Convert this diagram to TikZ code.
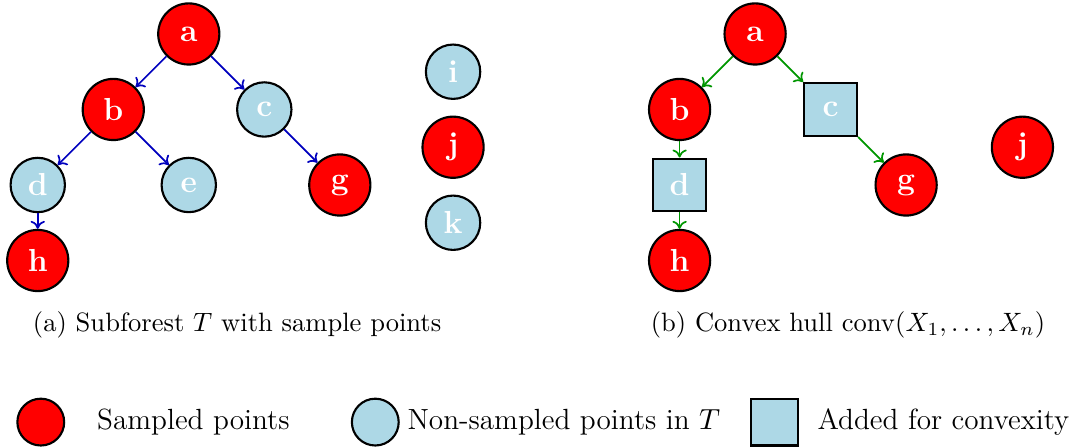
\documentclass[tikz,border=0pt]{standalone}
\usetikzlibrary{positioning, arrows.meta}
\definecolor{lightblue}{RGB}{173,216,230}
\definecolor{treeblue}{RGB}{0,0,190}
\definecolor{hullgreen}{RGB}{0,150,0}
\begin{document}
\begin{tikzpicture}
    [
    x=1cm, y=1cm, >={To[length=3pt, width=5.4pt]},
    %Voreinstellung für Knoten und Kanten
    sampled/.style={circle, draw=black, thick, fill=red, text=white,
      minimum size=0.81cm, inner sep=0pt, font=\large\bfseries},
    unsampled/.style={circle, draw=black, thick, fill=lightblue, text=white,
      minimum size=0.72cm, inner sep=0pt, font=\large\bfseries},
    added/.style={rectangle, draw=black, thick, fill=lightblue, text=white,
      minimum size=0.70cm, inner sep=0pt, font=\large\bfseries},
    treeedge/.style={->, treeblue, line width=0.65pt},
    hulledge/.style={->, hullgreen, line width=0.65pt},
    legendsym/.style={draw=black, thick, minimum size=0.62cm, inner sep=0pt},
    legendtxt/.style={anchor=west, inner sep=0pt, font=\fontsize{11}{13}\selectfont}
    ]
    
    %Rahmen
    \useasboundingbox (0,0.45) rectangle (14.21,-5.48);
    
    %Teilwald T links
    \node[sampled] (la) at (2.5,0) {a};
    \node[sampled] (lb) at (1.5,-1) {b};
    \node[unsampled] (lc) at (3.5,-1) {c};
    \node[unsampled] (ld) at (0.5,-2) {d};
    \node[unsampled] (le) at (2.5,-2) {e};
    \node[sampled] (lg) at (4.5,-2) {g};
    \node[sampled] (lh) at (0.5,-3) {h};
    \node[unsampled] (li) at (6,-0.5) {i};
    \node[sampled] (lj) at (6,-1.5) {j};
    \node[unsampled] (lk) at (6,-2.5) {k};
    
    \foreach \src/\dst in {la/lb, la/lc, lb/ld, lb/le, lc/lg, ld/lh}
    \draw[treeedge] (\src) -- (\dst);
    
    %Konvexe Hülle rechts
    \node[sampled] (ra) at (10,0) {a};
    \node[sampled] (rb) at (9,-1) {b};
    \node[added] (rc) at (11,-1) {c};
    \node[added] (rd) at (9,-2) {d};
    \node[sampled] (rg) at (12,-2) {g};
    \node[sampled] (rh) at (9,-3) {h};
    \node[sampled] (rj) at (13.54,-1.5) {j};
    
    \foreach \src/\dst in {ra/rb, ra/rc, rb/rd, rc/rg, rd/rh}
    \draw[hulledge] (\src) -- (\dst);
    
    %Unterschriften
    \node (capa) at (3.14,-3.85) {(a) Subforest $T$ with sample points};
    \node (capb) at (11.23,-3.85) {(b) Convex hull $\mathrm{conv}(X_1,\ldots,X_n)$};
    
    %Legende
    \node[legendsym, circle, fill=red] (symsampled) at (0.54,-5.14) {};
    \node[legendtxt] (txtsampled) at (1.28,-5.14) {Sampled points};
    \node[legendsym, circle, fill=lightblue] (symunsampled) at (4.97,-5.14) {};
    \node[legendtxt] (txtunsampled) at (5.39,-5.14) {Non-sampled points in $T$};
    \node[legendsym, fill=lightblue] (symadded) at (10.26,-5.14) {};
    \node[legendtxt] (txtadded) at (10.82,-5.14) {Added for convexity};
\end{tikzpicture}
\end{document}
